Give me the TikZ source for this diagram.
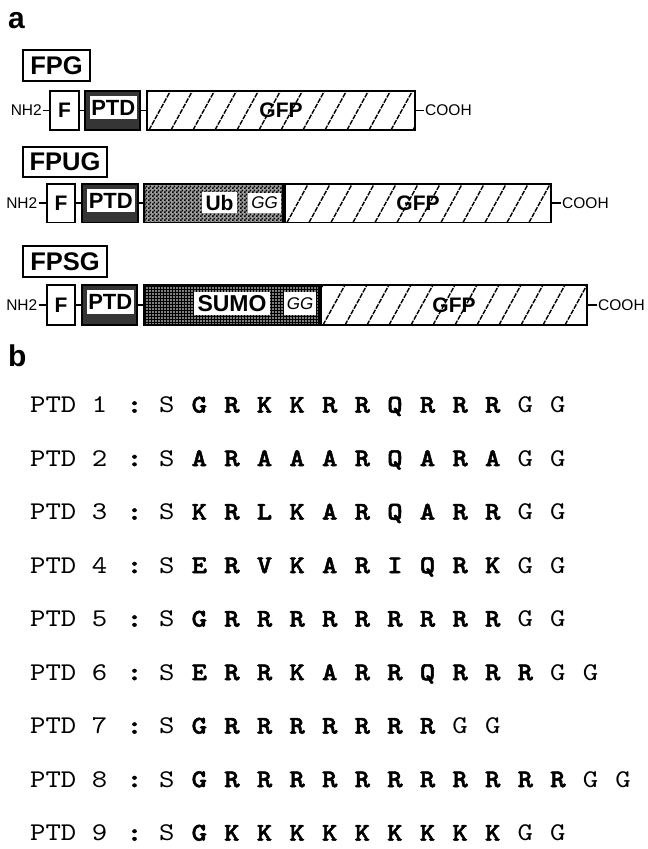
\documentclass[tikz,border=0pt]{standalone}
\usepackage{fontspec}
\setmainfont{Liberation Sans}
\newfontfamily\seqfont{lmmono10-regular.otf}[BoldFont=lmmonolt10-bold.otf,BoldFeatures={FakeBold=2},FakeStretch=1.15]
\usetikzlibrary{patterns}
\pgfdeclarepatternformonly{mycheck}{\pgfqpoint{0pt}{0pt}}{\pgfqpoint{4pt}{4pt}}{\pgfqpoint{4pt}{4pt}}{%
  \pgfpathrectangle{\pgfqpoint{0pt}{0pt}}{\pgfqpoint{2pt}{2pt}}%
  \pgfpathrectangle{\pgfqpoint{2pt}{2pt}}{\pgfqpoint{2pt}{2pt}}%
  \pgfusepath{fill}}
\pgfdeclarepatternformonly{mydots}{\pgfqpoint{-1pt}{-1pt}}{\pgfqpoint{1pt}{1pt}}{\pgfqpoint{3pt}{3pt}}{%
  \pgfpathcircle{\pgfqpoint{0pt}{0pt}}{0.8pt}%
  \pgfusepath{fill}}
\definecolor{ptdgray}{HTML}{353535}
\tikzset{
  box/.style={draw, line width=1.8pt, inner sep=0pt},
  lbl/.style={draw, line width=1.8pt, inner sep=0pt, font=\fontsize{25.5}{25.5}\selectfont\bfseries},
  term/.style={inner sep=1pt, font=\fontsize{15.5}{15.5}\selectfont},
  link/.style={line width=1.6pt},
  fbox/.style={box, fill=white, font=\fontsize{21}{21}\selectfont\bfseries},
  ptdbox/.style={box, fill=ptdgray},
  ptdin/.style={fill=white, inner sep=0pt, font=\fontsize{22}{22}\selectfont\bfseries},
  hatch/.style={line width=1.4pt, dash pattern=on 5pt off 1.2pt},
  gfp/.style={box, fill=white, font=\fontsize{21}{21}\selectfont\bfseries,
    path picture={\foreach \i in {-1,...,13}{\draw[hatch] ([xshift={(\i*22+2)*1pt}]path picture bounding box.south west) -- ++(22.5pt,41pt);}}},
  ubbox/.style={box, preaction={fill=gray!75}, pattern=mycheck, pattern color=black},
  sumobox/.style={box, preaction={fill=black}, pattern=mydots, pattern color=white},
  wbg/.style={fill=white, inner sep=0pt},
  panel/.style={inner sep=0pt, font=\fontsize{30}{30}\selectfont\bfseries},
  seqreg/.style={inner sep=0pt, font=\seqfont\fontsize{25.5}{25.5}\selectfont},
  seqbold/.style={inner sep=0pt, font=\seqfont\bfseries\fontsize{25.5}{25.5}\selectfont}
}
\begin{document}
\begin{tikzpicture}[x=1pt,y=-1pt]
\fill[white] (0,0) rectangle (648,849);
\useasboundingbox (0,0) rectangle (648,849);

% panel labels
\node[panel, anchor=base west] (pa) at (8,28) {a};
\node[panel, anchor=base west] (pb) at (8,366) {b};

% ---------- FPG ----------
\node[lbl, minimum width=67pt, minimum height=31pt] (L1) at (56.5,65.5) {FPG};
\node[term, anchor=east] (N1) at (43,110.5) {NH2};
\node[fbox, minimum width=29pt, minimum height=39pt] (F1) at (64.5,110.5) {F};
\node[ptdbox, minimum width=55pt, minimum height=39pt] (P1) at (112.5,110.5) {};
\node[ptdin, minimum width=47.5pt, minimum height=23.5pt] (P1t) at (113.25,107.5) {PTD};
\node[gfp, minimum width=268pt, minimum height=39pt] (G1) at (281,110.5) {GFP};
\node[term, anchor=west] (C1) at (424,110.5) {COOH};
\draw[link] (N1.east) -- (F1.west);
\draw[link] (F1.east) -- (P1.west);
\draw[link] (P1.east) -- (G1.west);
\draw[link] (G1.east) -- (C1.west);

% ---------- FPUG ----------
\node[lbl, minimum width=84pt, minimum height=30pt] (L2) at (65,162) {FPUG};
\node[term, anchor=east] (N2) at (38.5,203.25) {NH2};
\node[fbox, minimum width=28pt, minimum height=38.5pt] (F2) at (61,203.25) {F};
\node[ptdbox, minimum width=56pt, minimum height=38.5pt] (P2) at (110,203.25) {};
\node[ptdin, minimum width=48.5pt, minimum height=23pt] (P2t) at (110.75,200.5) {PTD};
\node[ubbox, minimum width=139pt, minimum height=38.5pt] (U2) at (213.5,203.25) {};
\node[wbg, minimum width=35pt, minimum height=21pt, font=\fontsize{21}{21}\selectfont\bfseries] (U2t) at (219.5,202.75) {Ub};
\node[wbg, minimum width=33pt, minimum height=20pt, font=\fontsize{17}{17}\selectfont\itshape] (GG2) at (264.5,202.75) {GG};
\node[gfp, minimum width=266pt, minimum height=38.5pt] (G2) at (418,203.25) {GFP};
\node[term, anchor=west] (C2) at (561,203.25) {COOH};
\draw[link] (N2.east) -- (F2.west);
\draw[link] (F2.east) -- (P2.west);
\draw[link] (P2.east) -- (U2.west);
\draw[link] (G2.east) -- (C2.west);

% ---------- FPSG ----------
\node[lbl, minimum width=84pt, minimum height=31pt] (L3) at (65,261.5) {FPSG};
\node[term, anchor=east] (N3) at (38.5,305) {NH2};
\node[fbox, minimum width=28pt, minimum height=40pt] (F3) at (61,305) {F};
\node[ptdbox, minimum width=55pt, minimum height=40pt] (P3) at (109.5,305) {};
\node[ptdin, minimum width=47.5pt, minimum height=24.5pt] (P3t) at (110.25,302) {PTD};
\node[sumobox, minimum width=175pt, minimum height=40pt] (S3) at (231.5,305) {};
\node[wbg, minimum width=76pt, minimum height=23pt, font=\fontsize{23}{23}\selectfont\bfseries] (S3t) at (232,303.5) {SUMO};
\node[wbg, minimum width=32pt, minimum height=23pt, font=\fontsize{17}{17}\selectfont\itshape] (GG3) at (300,303.5) {GG};
\node[gfp, minimum width=266pt, minimum height=40pt] (G3) at (454,305) {GFP};
\node[term, anchor=west] (C3) at (597,305) {COOH};
\draw[link] (N3.east) -- (F3.west);
\draw[link] (F3.east) -- (P3.west);
\draw[link] (P3.east) -- (S3.west);
\draw[link] (G3.east) -- (C3.west);

% ---------- sequences ----------
\foreach \ri/\nn/\lst in {1/10/{G,R,K,K,R,R,Q,R,R,R},
                          2/10/{A,R,A,A,A,R,Q,A,R,A},
                          3/10/{K,R,L,K,A,R,Q,A,R,R},
                          4/10/{E,R,V,K,A,R,I,Q,R,K},
                          5/10/{G,R,R,R,R,R,R,R,R,R},
                          6/11/{E,R,R,K,A,R,R,Q,R,R,R},
                          7/8/{G,R,R,R,R,R,R,R},
                          8/12/{G,R,R,R,R,R,R,R,R,R,R,R},
                          9/10/{G,K,K,K,K,K,K,K,K,K}}{
  \pgfmathsetmacro\yb{405+53.5*(\ri-1)+7.6}
  \node[seqreg, anchor=base west] (lab\ri) at (30,\yb) {PTD \ri};
  \node[seqbold, anchor=base] (col\ri) at (134.5,\yb) {:};
  \node[seqreg, anchor=base] (s\ri-0) at (166.7,\yb) {S};
  \foreach \cc [count=\kk] in \lst {
    \node[seqbold, anchor=base] (s\ri-\kk) at ({166.7+32.6*\kk},\yb) {\cc};
  }
  \pgfmathtruncatemacro\ga{\nn+1}
  \pgfmathtruncatemacro\gb{\nn+2}
  \node[seqreg, anchor=base] (s\ri-\ga) at ({166.7+32.6*\ga},\yb) {G};
  \node[seqreg, anchor=base] (s\ri-\gb) at ({166.7+32.6*\gb},\yb) {G};
}
\end{tikzpicture}
\end{document}
